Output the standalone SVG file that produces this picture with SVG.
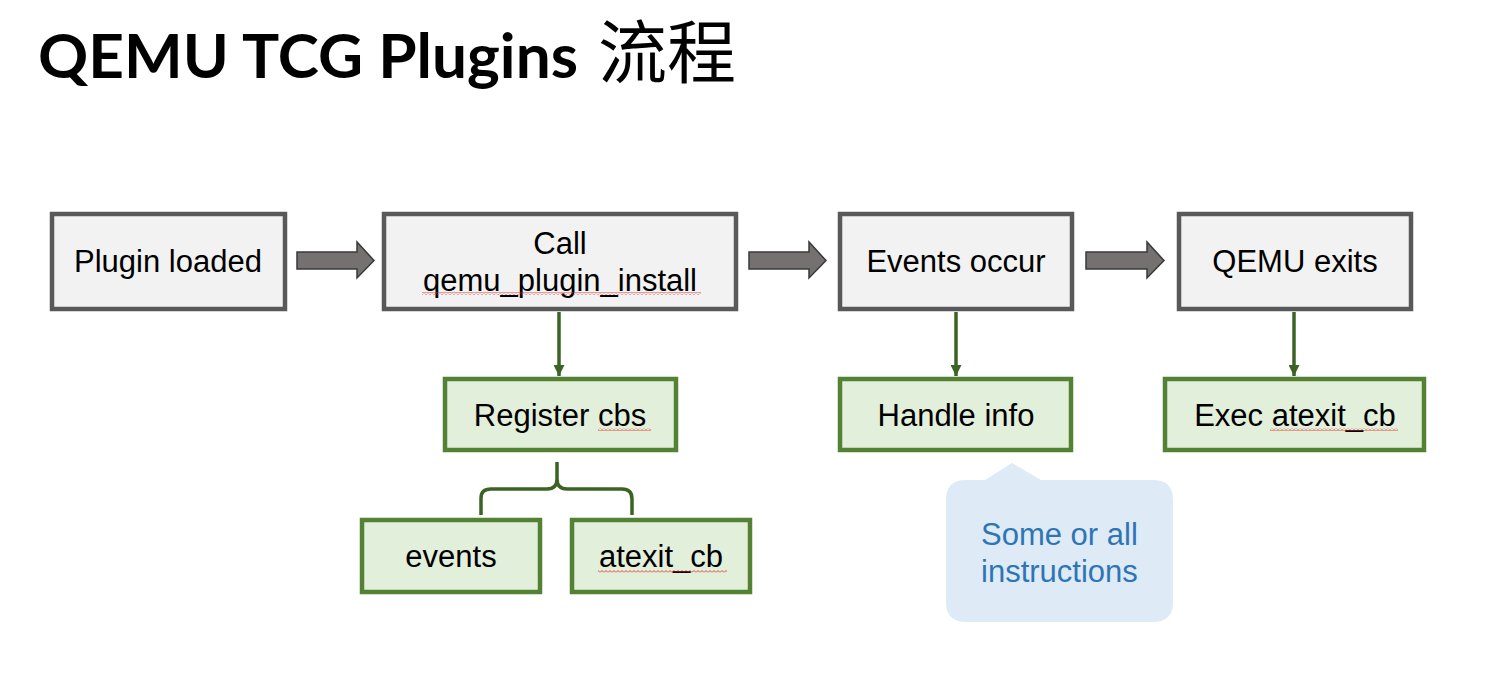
<svg xmlns="http://www.w3.org/2000/svg" width="1498" height="681" viewBox="0 0 1498 681">
<defs>
<style>
.t{font-family:"Liberation Sans",Arial,sans-serif;font-size:31px;fill:#000;text-anchor:middle}
.gray{fill:#F2F2F2;stroke:#595959;stroke-width:4.5}
.green{fill:#E2EFDA;stroke:#548235;stroke-width:4.5}
.blk{fill:#767171;stroke:#3a3a3a;stroke-width:1.5}
.con{stroke:#3B6323;stroke-width:3.5;fill:none}
.sq{fill:url(#squiggle)}
</style>
<marker id="ah" viewBox="0 0 10 10" refX="10" refY="5" markerWidth="11" markerHeight="11" markerUnits="userSpaceOnUse" orient="auto">
<path d="M0,0 L10,5 L0,10 Z" fill="#3B6323"/>
</marker>
<pattern id="squiggle" width="4" height="3" patternUnits="userSpaceOnUse">
<polyline points="0,2.5 2,0.5 4,2.5" fill="none" stroke="#E03030" stroke-width="0.9"/>
</pattern>
</defs>
<rect width="1498" height="681" fill="#fff"/>
<g id="title">
<text y="78" font-family="Lato,'Open Sans','Liberation Sans',sans-serif" font-weight="700" font-size="62" fill="#000"><tspan x="38" textLength="540" lengthAdjust="spacingAndGlyphs">QEMU TCG Plugins</tspan><tspan x="598" font-family="'Noto Sans CJK SC','Noto Sans CJK TC',sans-serif" font-weight="400" font-size="69">流程</tspan></text>
</g>
<g id="connectors">
<path class="blk" d="M297,252 H357 V242 L374,260.5 L357,278 V269 H297 Z"/>
<path class="blk" d="M749,252 H809 V242 L826,260.5 L809,278 V269 H749 Z"/>
<path class="blk" d="M1086,252 H1147 V242 L1164,260.5 L1147,278 V269 H1086 Z"/>
<line class="con" x1="559" y1="312" x2="559" y2="376" marker-end="url(#ah)"/>
<line class="con" x1="956" y1="312" x2="956" y2="376" marker-end="url(#ah)"/>
<line class="con" x1="1294" y1="312" x2="1294" y2="376" marker-end="url(#ah)"/>
<path class="con" d="M481,515 V498 Q481,489 491,489 H547 Q557,489 557,479 V462 M557,479 Q557,489 567,489 H622 Q632,489 632,499 V515"/>
</g>
<g id="plugin-loaded">
<rect class="gray" x="52" y="214" width="233" height="95"/>
<text class="t" x="168" y="272">Plugin loaded</text>
</g>
<g id="call-install">
<rect class="gray" x="384" y="214" width="352" height="95"/>
<text class="t" x="560" y="254">Call</text>
<text class="t" x="560" y="291">qemu_plugin_install</text>
<rect class="sq" x="422" y="292" width="279" height="3"/>
</g>
<g id="events-occur">
<rect class="gray" x="840" y="214" width="232" height="95"/>
<text class="t" x="956" y="272">Events occur</text>
</g>
<g id="qemu-exits">
<rect class="gray" x="1179" y="214" width="232" height="95"/>
<text class="t" x="1295" y="272">QEMU exits</text>
</g>
<g id="register-cbs">
<rect class="green" x="445" y="379" width="231" height="71"/>
<text class="t" x="560" y="426">Register cbs</text>
<rect class="sq" x="598" y="428" width="53" height="3"/>
</g>
<g id="handle-info">
<rect class="green" x="840" y="379" width="231" height="71"/>
<text class="t" x="956" y="426">Handle info</text>
</g>
<g id="exec-atexit">
<rect class="green" x="1165" y="379" width="259" height="71"/>
<text class="t" x="1295" y="426">Exec atexit_cb</text>
<rect class="sq" x="1270" y="428" width="128" height="3"/>
</g>
<g id="events">
<rect class="green" x="362" y="520" width="178" height="72"/>
<text class="t" x="451" y="567">events</text>
</g>
<g id="atexit-cb">
<rect class="green" x="572" y="520" width="178" height="72"/>
<text class="t" x="661" y="567">atexit_cb</text>
<rect class="sq" x="598" y="570" width="129" height="3"/>
</g>
<g id="callout">
<path d="M966,480 H985 L1012,463 L1041,480 H1153 Q1173,480 1173,500 V602 Q1173,622 1153,622 H966 Q946,622 946,602 V500 Q946,480 966,480 Z" fill="#DEEBF7"/>
<text x="981" y="545" font-family="'Liberation Sans',Arial,sans-serif" font-size="31" fill="#2E75B6">Some or all</text>
<text x="981" y="582" font-family="'Liberation Sans',Arial,sans-serif" font-size="31" fill="#2E75B6">instructions</text>
</g>
</svg>
